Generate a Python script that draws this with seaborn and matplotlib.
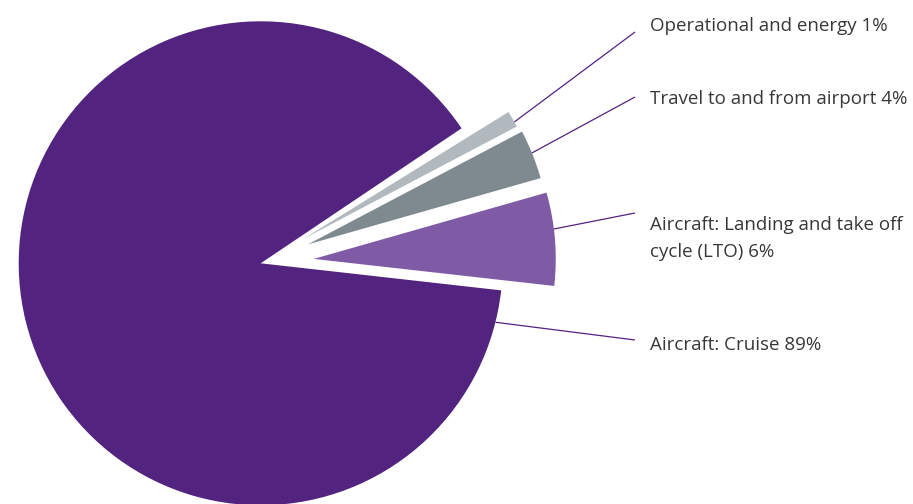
import numpy as np
import matplotlib
matplotlib.use("Agg")
import matplotlib.pyplot as plt
import seaborn as sns

# ---- data ----
categories = ["Aircraft: Cruise", "Aircraft: Landing and take off\ncycle (LTO)",
              "Travel to and from airport", "Operational and energy"]
shares = [88.8, 6.2, 3.3, 1.1]          # wedge sizes as drawn in the picture (% of circle)
label_pcts = [89, 6, 4, 1]              # percentages printed in the labels
colors = ["#52247f", "#7f5ba6", "#7f8990", "#b1b8be"]
explode = [0.0, 0.22, 0.21, 0.20]

sns.set_theme(style="white")
plt.rcParams['font.family'] = ['Open Sans', 'DejaVu Sans']

W, H = 913, 504
fig = plt.figure(figsize=(W / 100, H / 100), dpi=100)
ax = fig.add_axes([0, 0, 1, 1])

cx_px, cy_px, r_px = 260.7, 263.3, 242.0
def px2d(x, y):
    return (x - cx_px) / r_px, (cy_px - y) / r_px

fracs = [s / 100 for s in shares]
wedges, _ = ax.pie(fracs, colors=colors, explode=explode, startangle=33.9,
                   counterclock=True, radius=1.0, center=(0, 0), normalize=False,
                   wedgeprops=dict(linewidth=0))

ax.set_xlim(px2d(0, 0)[0], px2d(W, 0)[0])
ax.set_ylim(px2d(0, H)[1], px2d(0, 0)[1])
ax.set_aspect('equal')
ax.axis('off')

# leader lines: anchor angle on each wedge's outer arc -> end near label
anchor_angles = [-14.1, 7.1, 22.2, 29.0]
line_end_y_px = [340, 213, 97, 32]
line_end_x = px2d(635, 0)[0]
for w, ang, ey_px in zip(wedges, anchor_angles, line_end_y_px):
    ox, oy = w.center
    a = np.deg2rad(ang)
    sx, sy = ox + np.cos(a), oy + np.sin(a)
    ax.plot([sx, line_end_x], [sy, px2d(0, ey_px)[1]], color="#52247f", lw=0.9,
            solid_capstyle='butt')

# labels
text_x = px2d(650, 0)[0]
text_color = "#383838"
fs = 13.5
label_lines = [
    [(f"{categories[0]} {label_pcts[0]}%", 350)],
    [(categories[1].split("\n")[0], 230),
     (f"{categories[1].split(chr(10))[1]} {label_pcts[1]}%", 257)],
    [(f"{categories[2]} {label_pcts[2]}%", 104)],
    [(f"{categories[3]} {label_pcts[3]}%", 31)],
]
for items in label_lines:
    for txt, base_px in items:
        ax.text(text_x, px2d(0, base_px)[1], txt, fontsize=fs, color=text_color,
                va='baseline', ha='left')

fig.savefig("out.png", dpi=100)
